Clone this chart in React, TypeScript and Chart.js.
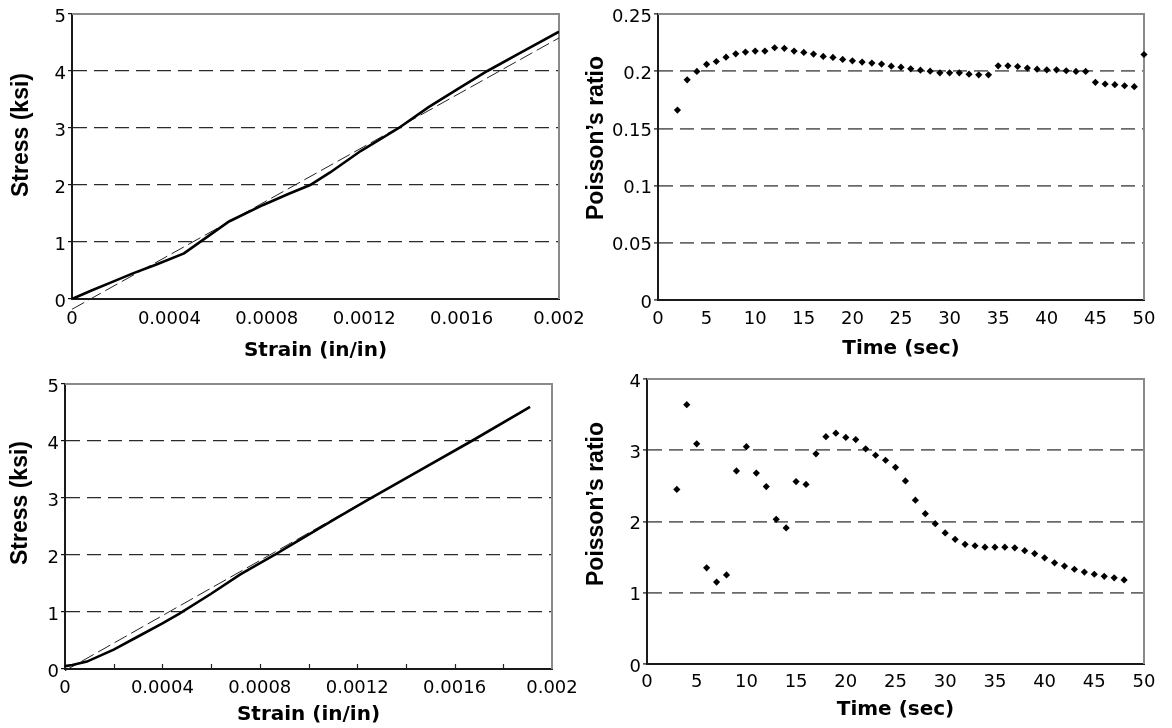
import React, { useEffect, useRef } from 'react';
import { Chart, registerables } from 'chart.js';

Chart.register(...registerables);

// ---------- tick values and labels ----------
const strainTicks = [0, 0.0004, 0.0008, 0.0012, 0.0016, 0.002];
const strainTickLabels = ['0', '0.0004', '0.0008', '0.0012', '0.0016', '0.002'];
const strainMinorTicks = [0.0002, 0.0004, 0.0006, 0.0008, 0.001, 0.0012, 0.0014, 0.0016, 0.0018];
const stressTicks = [0, 1, 2, 3, 4, 5];
const stressTickLabels = ['0', '1', '2', '3', '4', '5'];
const timeTicks = [0, 5, 10, 15, 20, 25, 30, 35, 40, 45, 50];
const timeTickLabels = ['0', '5', '10', '15', '20', '25', '30', '35', '40', '45', '50'];
const ratioTopTicks = [0, 0.05, 0.1, 0.15, 0.2, 0.25];
const ratioTopTickLabels = ['0', '0.05', '0.1', '0.15', '0.2', '0.25'];
const ratioBottomTicks = [0, 1, 2, 3, 4];
const ratioBottomTickLabels = ['0', '1', '2', '3', '4'];

// ---------- series: test 1 (top row) ----------
const test1Strain = [0, 0.00008, 0.000166, 0.00025, 0.000344, 0.00046, 0.000522, 0.000645, 0.000785, 0.000893, 0.000978, 0.00106, 0.001187, 0.001342, 0.001466, 0.00159, 0.001706, 0.001837, 0.002];
const test1Stress = [0, 0.15, 0.3, 0.45, 0.6, 0.8, 0.99, 1.36, 1.65, 1.85, 2.0, 2.22, 2.6, 3.0, 3.37, 3.7, 4.0, 4.31, 4.69];
const test1FitStrain = [0, 0.002];
const test1FitStress = [-0.18, 4.58];

const test1Time = [2, 3, 4, 5, 6, 7, 8, 9, 10, 11, 12, 13, 14, 15, 16, 17, 18, 19, 20, 21, 22, 23, 24, 25, 26, 27, 28, 29, 30, 31, 32, 33, 34, 35, 36, 37, 38, 39, 40, 41, 42, 43, 44, 45, 46, 47, 48, 49, 50];
const test1Ratio = [0.166, 0.1925, 0.1998, 0.206, 0.2085, 0.2123, 0.2152, 0.2167, 0.2176, 0.2176, 0.2205, 0.22, 0.2176, 0.2164, 0.215, 0.2129, 0.212, 0.2103, 0.2091, 0.208, 0.2071, 0.2062, 0.2044, 0.2035, 0.2021, 0.2009, 0.2, 0.1986, 0.1986, 0.1986, 0.1974, 0.1968, 0.1968, 0.2047, 0.2047, 0.2041, 0.2027, 0.2018, 0.2012, 0.2012, 0.2004, 0.1998, 0.1998, 0.1903, 0.1888, 0.1882, 0.1873, 0.1865, 0.2146];

// ---------- series: test 2 (bottom row) ----------
const test2Strain = [0, 0.00003, 0.00009, 0.0002, 0.0003, 0.0004, 0.00047, 0.0006, 0.00072, 0.00086, 0.00091, 0.00112, 0.00124, 0.00143, 0.00167, 0.00191];
const test2Stress = [0.05, 0.07, 0.13, 0.34, 0.57, 0.8, 0.97, 1.32, 1.66, 2.0, 2.13, 2.66, 2.96, 3.42, 4.0, 4.6];
const test2FitStrain = [0, 0.0019];
const test2FitStress = [-0.03, 4.56];

const test2Time = [3, 4, 5, 6, 7, 8, 9, 10, 11, 12, 13, 14, 15, 16, 17, 18, 19, 20, 21, 22, 23, 24, 25, 26, 27, 28, 29, 30, 31, 32, 33, 34, 35, 36, 37, 38, 39, 40, 41, 42, 43, 44, 45, 46, 47, 48];
const test2Ratio = [2.45, 3.64, 3.09, 1.35, 1.15, 1.25, 2.71, 3.05, 2.68, 2.49, 2.03, 1.91, 2.56, 2.52, 2.95, 3.19, 3.24, 3.18, 3.15, 3.02, 2.93, 2.86, 2.76, 2.57, 2.3, 2.11, 1.97, 1.84, 1.75, 1.68, 1.66, 1.64, 1.64, 1.64, 1.63, 1.59, 1.55, 1.49, 1.42, 1.375, 1.33, 1.29, 1.26, 1.23, 1.21, 1.18];

const pairs = (xs: number[], ys: number[]) => xs.map((x, i) => ({ x, y: ys[i] }));

const TICK_FONT = { family: "'DejaVu Sans', sans-serif", size: 18, lineHeight: 1.2 };
const X_TITLE_FONT = { family: "'DejaVu Sans', sans-serif", size: 20, weight: 'bold' as const, lineHeight: 1.2 };
const Y_TITLE_CSS = "bold 23px 'Liberation Sans', Arial, sans-serif";

const framePlugin = {
  id: 'frame',
  beforeDatasetsDraw(chart: any, _args: any, opts: any) {
    const { ctx, chartArea } = chart;
    const { left, top, right, bottom } = chartArea;
    ctx.save();
    ctx.strokeStyle = '#8a8a8a';
    ctx.lineWidth = 2;
    ctx.beginPath();
    ctx.moveTo(left, top);
    ctx.lineTo(right, top);
    ctx.lineTo(right, bottom);
    ctx.stroke();
    if (opts && opts.minorTicks) {
      const xs = chart.scales.x;
      ctx.strokeStyle = '#222';
      ctx.lineWidth = 1.2;
      ctx.beginPath();
      for (const v of opts.minorTicks) {
        const px = Math.round(xs.getPixelForValue(v)) + 0.5;
        ctx.moveTo(px, bottom);
        ctx.lineTo(px, bottom - 5);
      }
      ctx.stroke();
    }
    ctx.restore();
  },
  afterDraw(chart: any, _args: any, opts: any) {
    if (!opts || !opts.yTitle) return;
    const { ctx } = chart;
    ctx.save();
    ctx.translate(opts.yTitleX, opts.yTitleY);
    ctx.rotate(-Math.PI / 2);
    ctx.font = Y_TITLE_CSS;
    ctx.fillStyle = '#000';
    ctx.textAlign = 'center';
    ctx.textBaseline = 'middle';
    ctx.fillText(opts.yTitle, 0, 0);
    ctx.restore();
  },
};

type Spec = {
  W: number; H: number;
  area: { l: number; t: number; r: number; b: number };
  datasets: any[];
  xMin: number; xMax: number; xTicks: number[]; xLabels: string[]; xTitle: string; xTitlePad: number; xTickPad: number;
  yMin: number; yMax: number; yTicks: number[]; yLabels: string[]; yTitle: string; yTitleX: number; yTitleY: number;
  gridColor: string; gridWidth: number;
  minorTicks?: number[];
};

function makeConfig(s: Spec): any {
  return {
    type: 'scatter',
    data: { datasets: s.datasets },
    plugins: [framePlugin],
    options: {
      responsive: false,
      animation: false,
      devicePixelRatio: 1,
      layout: { padding: { left: 0, top: s.area.t, right: s.W - s.area.r, bottom: 0 } },
      plugins: {
        legend: { display: false },
        tooltip: { enabled: false },
        frame: { minorTicks: s.minorTicks, yTitle: s.yTitle, yTitleX: s.yTitleX, yTitleY: s.yTitleY },
      },
      scales: {
        x: {
          type: 'linear',
          position: 'bottom',
          min: s.xMin,
          max: s.xMax,
          afterBuildTicks: (sc: any) => { sc.ticks = s.xTicks.map((v) => ({ value: v })); },
          afterFit: (sc: any) => { sc.height = s.H - s.area.b; },
          ticks: {
            autoSkip: false, maxRotation: 0, minRotation: 0,
            font: TICK_FONT, color: '#000', padding: s.xTickPad,
            callback: (_v: any, i: number) => s.xLabels[i],
          },
          grid: { display: false, drawTicks: false },
          border: { display: true, color: '#1a1a1a', width: 2 },
          title: { display: true, text: s.xTitle, font: X_TITLE_FONT, color: '#000', padding: { top: 0, bottom: s.xTitlePad } },
        },
        y: {
          type: 'linear',
          position: 'left',
          min: s.yMin,
          max: s.yMax,
          afterBuildTicks: (sc: any) => { sc.ticks = s.yTicks.map((v) => ({ value: v })); },
          afterFit: (sc: any) => { sc.width = s.area.l; },
          ticks: {
            autoSkip: false,
            font: TICK_FONT, color: '#000', padding: 2, labelOffset: 3,
            callback: (_v: any, i: number) => s.yLabels[i],
          },
          grid: {
            drawTicks: true,
            tickLength: 4,
            tickColor: '#111',
            tickWidth: 1.2,
            color: (ctx: any) => (ctx.tick && (ctx.tick.value === s.yMin || ctx.tick.value === s.yMax)) ? 'rgba(0,0,0,0)' : s.gridColor,
            lineWidth: s.gridWidth,
          },
          border: { display: true, color: '#1a1a1a', width: 2, dash: [14, 7] },
          title: { display: false },
        },
      },
    },
  };
}

const solidLine = (xs: number[], ys: number[]) => ({
  data: pairs(xs, ys), showLine: true, borderColor: '#000', borderWidth: 2.6,
  pointRadius: 0, tension: 0, fill: false,
});
const dashedLine = (xs: number[], ys: number[]) => ({
  data: pairs(xs, ys), showLine: true, borderColor: '#222', borderWidth: 1,
  borderDash: [14, 5], pointRadius: 0, tension: 0, fill: false, clip: false,
});
const dots = (xs: number[], ys: number[]) => ({
  data: pairs(xs, ys), showLine: false, pointStyle: 'rectRot', pointRadius: 3.6,
  backgroundColor: '#000', borderColor: '#000', borderWidth: 0, clip: false,
});

const CHARTS: { left: number; top: number; spec: Spec }[] = [
  {
    left: 0, top: 0,
    spec: {
      W: 600, H: 364, area: { l: 72, t: 14, r: 559, b: 299 },
      datasets: [solidLine(test1Strain, test1Stress), dashedLine(test1FitStrain, test1FitStress)],
      xMin: 0, xMax: 0.002, xTicks: strainTicks, xLabels: strainTickLabels, xTitle: 'Strain (in/in)', xTitlePad: 1, xTickPad: 10,
      yMin: 0, yMax: 5, yTicks: stressTicks, yLabels: stressTickLabels, yTitle: 'Stress (ksi)', yTitleX: 22, yTitleY: 135,
      gridColor: '#2a2a2a', gridWidth: 1.2,
    },
  },
  {
    left: 580, top: 0,
    spec: {
      W: 592, H: 364, area: { l: 78, t: 14, r: 564, b: 300 },
      datasets: [dots(test1Time, test1Ratio)],
      xMin: 0, xMax: 50, xTicks: timeTicks, xLabels: timeTickLabels, xTitle: 'Time (sec)', xTitlePad: 3, xTickPad: 9,
      yMin: 0, yMax: 0.25, yTicks: ratioTopTicks, yLabels: ratioTopTickLabels, yTitle: 'Poisson\u2019s ratio', yTitleX: 17, yTitleY: 138,
      gridColor: '#6a6a6a', gridWidth: 1.8,
    },
  },
  {
    left: 0, top: 364,
    spec: {
      W: 600, H: 364, area: { l: 65, t: 20, r: 552, b: 305 },
      datasets: [solidLine(test2Strain, test2Stress), dashedLine(test2FitStrain, test2FitStress)],
      xMin: 0, xMax: 0.002, xTicks: strainTicks, xLabels: strainTickLabels, xTitle: 'Strain (in/in)', xTitlePad: 1, xTickPad: 9,
      yMin: 0, yMax: 5, yTicks: stressTicks, yLabels: stressTickLabels, yTitle: 'Stress (ksi)', yTitleX: 21, yTitleY: 139,
      gridColor: '#2a2a2a', gridWidth: 1.2,
      minorTicks: strainMinorTicks,
    },
  },
  {
    left: 580, top: 364,
    spec: {
      W: 592, H: 364, area: { l: 67, t: 15, r: 564, b: 300 },
      datasets: [dots(test2Time, test2Ratio)],
      xMin: 0, xMax: 50, xTicks: timeTicks, xLabels: timeTickLabels, xTitle: 'Time (sec)', xTitlePad: 6, xTickPad: 8,
      yMin: 0, yMax: 4, yTicks: ratioBottomTicks, yLabels: ratioBottomTickLabels, yTitle: 'Poisson\u2019s ratio', yTitleX: 17, yTitleY: 140,
      gridColor: '#6a6a6a', gridWidth: 1.8,
    },
  },
];

function ChartBox({ left, top, spec }: { left: number; top: number; spec: Spec }) {
  const ref = useRef<HTMLCanvasElement>(null);
  useEffect(() => {
    const chart = new Chart(ref.current as HTMLCanvasElement, makeConfig(spec));
    return () => chart.destroy();
  }, []);
  return (
    <div style={{ position: 'absolute', left, top, width: spec.W, height: spec.H }}>
      <canvas ref={ref} width={spec.W} height={spec.H} style={{ display: 'block' }} />
    </div>
  );
}

export default function App() {
  return (
    <div style={{ position: 'fixed', left: 0, top: 0, width: 1172, height: 728, background: '#fff', overflow: 'hidden' }}>
      {CHARTS.map((c, i) => (
        <ChartBox key={i} left={c.left} top={c.top} spec={c.spec} />
      ))}
    </div>
  );
}
